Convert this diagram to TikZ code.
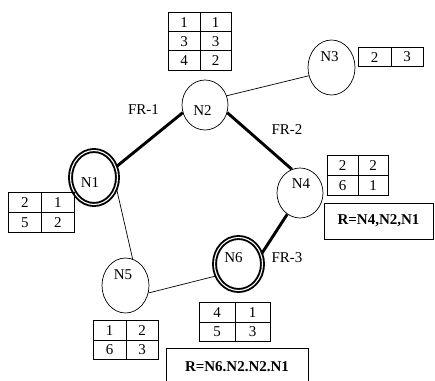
\documentclass[tikz,border=0pt]{standalone}
\usepackage{fontspec}
\setmainfont{Liberation Serif}
\usetikzlibrary{shapes,arrows,positioning,calc,matrix}

\begin{document}
\begin{tikzpicture}[x=1pt,y=-1pt,
    every node/.style={font=\fontsize{15}{17}\selectfont},
    site/.style={ellipse, draw, line width=0.7pt, inner sep=0pt},
    gateway/.style={ellipse, draw, line width=1.9pt, double, double distance=1.1pt, inner sep=0pt},
    fastlink/.style={line width=2.9pt},
    slowlink/.style={line width=0.7pt},
    celltab/.style 2 args={matrix of nodes, inner sep=0pt, anchor=north west,
        column sep=-0.7pt, row sep=-0.7pt,
        nodes={draw, line width=0.7pt, minimum width=#1, minimum height=#2, inner sep=0pt, anchor=center}},
    route/.style={draw, line width=0.7pt, inner sep=0pt, font=\bfseries\fontsize{15}{17}\selectfont}]
    \useasboundingbox (0,0) rectangle (435,380);
    \clip (0,0) rectangle (435,380);

    % nodes of the network
    \node[gateway, minimum width=47pt, minimum height=54pt, label={[xshift=-4pt, yshift=-5pt]center:N1}] (n1) at (94,177.5) {};
    \node[site, minimum width=46pt, minimum height=50pt, label={[xshift=-2.5pt, yshift=-5.5pt]center:N2}] (n2) at (205,105) {};
    \node[site, minimum width=47pt, minimum height=55pt, label={[xshift=-2pt, yshift=10.5pt]center:N3}] (n3) at (331.5,67.5) {};
    \node[site, minimum width=46pt, minimum height=50pt, label={[xshift=1pt, yshift=9.5pt]center:N4}] (n4) at (300,193) {};
    \node[site, minimum width=47pt, minimum height=55pt, label={[xshift=-2.5pt, yshift=10.5pt]center:N5}] (n5) at (125.5,285.5) {};
    \node[gateway, minimum width=48pt, minimum height=53pt, label={[xshift=-5pt, yshift=6.5pt]center:N6}] (n6) at (238.5,264) {};

    % links
    \draw[fastlink] (n1.26) -- (n2.199);
    \draw[slowlink] (n2.23) -- (n3.200);
    \draw[fastlink] (n2.-19) -- (n4.109);
    \draw[slowlink] (n1.-26) -- (n5.75);
    \draw[slowlink] (n5.-18) -- (n6.208);
    \draw[fastlink] (n6.24) -- (n4.239);

    % frame relay labels
    \node (fr1) at (143.5,110) {FR-1};
    \node (fr2) at (287,130) {FR-2};
    \node (fr3) at (287,258) {FR-3};

    % tables beside the nodes
    \matrix (t2) [celltab={31.3pt}{19.1pt}] at (168,12) {1 & 1\\ 3 & 3\\ 4 & 2\\};
    \matrix (t3) [celltab={32.3pt}{19pt}] at (358,47) {2 & 3\\};
    \matrix (t4) [celltab={30.3pt}{20pt}] at (327,155) {2 & 2\\ 6 & 1\\};
    \matrix (t1) [celltab={32.8pt}{19.8pt}] at (8,192) {2 & 1\\ 5 & 2\\};
    \matrix (t5) [celltab={32.3pt}{19.3pt}] at (93,320) {1 & 2\\ 6 & 3\\};
    \matrix (t6) [celltab={35.3pt}{19.3pt}] at (199,302) {4 & 1\\ 5 & 3\\};

    % routes
    \node[route, minimum width=109pt, minimum height=36pt] (r4) at (378.5,221) {R=N4,N2,N1};
    \node[route, minimum width=142pt, minimum height=38pt] (r6) at (237,367) {R=N6.N2.N2.N1};
\end{tikzpicture}
\end{document}
